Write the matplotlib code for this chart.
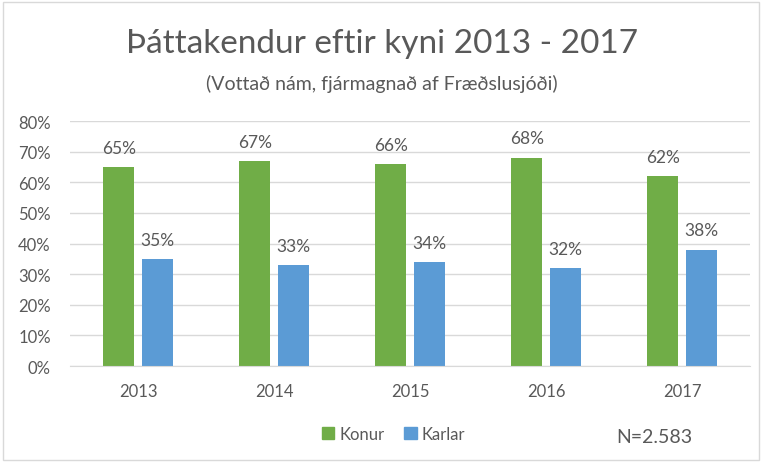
import numpy as np
import matplotlib
matplotlib.use("Agg")
import matplotlib.pyplot as plt
from matplotlib.patches import Rectangle, Patch

years = ["2013", "2014", "2015", "2016", "2017"]
konur = [65, 67, 66, 68, 62]
karlar = [35, 33, 34, 32, 38]
yticks = [0, 10, 20, 30, 40, 50, 60, 70, 80]

GREEN = "#70AD47"
BLUE = "#5B9BD5"
TXT = "#595959"
GRID = "#D9D9D9"

plt.rcParams["font.family"] = ["Lato", "DejaVu Sans"]

fig = plt.figure(figsize=(7.64, 4.64), dpi=100)
fig.patches.append(Rectangle((0.004, 0.006), 0.99, 0.988, transform=fig.transFigure,
                             fill=False, edgecolor=GRID, linewidth=1.0))

ax = fig.add_axes([0.092, 0.209, 0.89, 0.528])
x = np.arange(len(years))
w = 0.228
off = 0.143
b1 = ax.bar(x - off, konur, w, color=GREEN, zorder=3)
b2 = ax.bar(x + off, karlar, w, color=BLUE, zorder=3)

for bars, vals in ((b1, konur), (b2, karlar)):
    for r, v in zip(bars, vals):
        ax.text(r.get_x() + r.get_width() / 2, v + 6.3, f"{v}%",
                ha="center", va="center", fontsize=12.5, color=TXT)

ax.set_xlim(-0.5, len(years) - 0.5)
ax.set_ylim(0, 80)
ax.set_yticks(yticks)
ax.set_yticklabels([f"{t}%" for t in yticks])
ax.set_xticks(x)
ax.set_xticklabels(years)
ax.tick_params(axis="both", length=0, labelsize=12, labelcolor=TXT)
ax.tick_params(axis="x", pad=12)
ax.tick_params(axis="y", pad=14)
ax.grid(axis="y", color=GRID, linewidth=1.0, zorder=0)
for s in ("top", "right", "left"):
    ax.spines[s].set_visible(False)
ax.spines["bottom"].set_color(GRID)
ax.spines["bottom"].set_zorder(4)

fig.text(0.5, 0.905, "Þáttakendur eftir kyni 2013 - 2017", ha="center", va="center",
         fontsize=24, color=TXT)
fig.text(0.5, 0.82, "(Vottað nám, fjármagnað af Fræðslusjóði)", ha="center", va="center",
         fontsize=14, color=TXT)

handles = [Patch(color=GREEN, label="Konur"), Patch(color=BLUE, label="Karlar")]
fig.legend(handles=handles, loc="center", bbox_to_anchor=(0.515, 0.063), ncol=2,
           frameon=False, fontsize=12, labelcolor=TXT, handlelength=0.75,
           handleheight=0.75, handletextpad=0.3, columnspacing=1.2)
fig.text(0.857, 0.057, "N=2.583", ha="center", va="center", fontsize=14, color=TXT)

fig.savefig("out.png", dpi=100)
